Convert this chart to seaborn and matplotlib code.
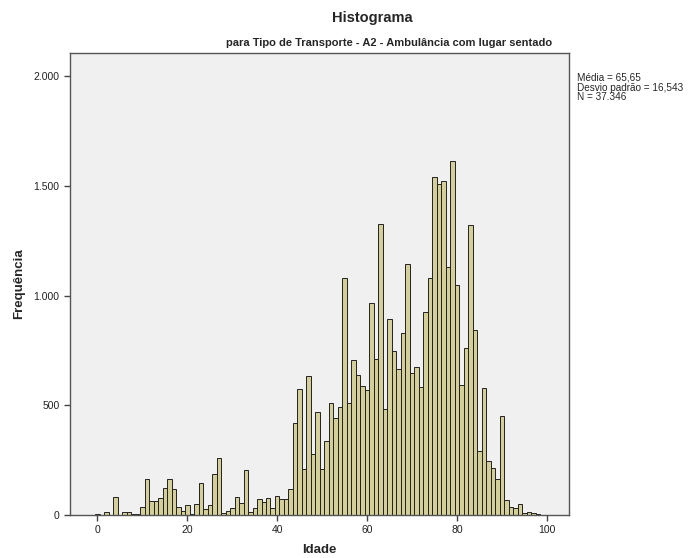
import numpy as np
import pandas as pd
import seaborn as sns
import matplotlib.pyplot as plt
from matplotlib.ticker import FuncFormatter

# Idade (anos) e frequência por idade
idade = list(range(0, 100))
frequencia = [
    5, 2, 12, 2, 83, 2, 12, 12, 5, 3,
    38, 165, 65, 65, 76, 123, 165, 118, 36, 18,
    44, 5, 48, 144, 26, 47, 188, 259, 8, 18,
    33, 83, 53, 203, 12, 32, 74, 58, 77, 33,
    86, 71, 72, 120, 418, 575, 208, 635, 277, 470,
    208, 339, 512, 440, 491, 1082, 512, 708, 639, 589,
    568, 967, 711, 1327, 485, 895, 746, 663, 830, 1143,
    647, 674, 583, 927, 1080, 1538, 1506, 1521, 1130, 1614,
    1050, 591, 762, 1321, 841, 292, 577, 245, 212, 164,
    453, 68, 36, 32, 48, 8, 12, 8, 5, 2,
]
y_ticks = [0, 500, 1000, 1500, 2000]
x_ticks = [0, 20, 40, 60, 80, 100]
stats_text = "Média = 65,65\nDesvio padrão = 16,543\nN = 37.346"

df = pd.DataFrame({"Idade": idade, "Frequencia": frequencia})

sns.set_style("white")
plt.rcParams['font.family'] = ['Liberation Sans', 'DejaVu Sans']

fig = plt.figure(figsize=(6.94, 5.58), dpi=100)
ax = fig.add_axes([70 / 694, 43 / 558, (569 - 70) / 694, (515 - 53) / 558])
ax.set_facecolor("#F0F0F0")

sns.histplot(data=df, x="Idade", weights="Frequencia", discrete=True,
             color="#D4CF98", edgecolor="#222222", linewidth=0.7, alpha=1, ax=ax)

ax.set_xlim(-6.1, 104.9)
ax.set_ylim(0, 2105)
ax.set_xticks(x_ticks)
ax.set_yticks(y_ticks)
ax.yaxis.set_major_formatter(FuncFormatter(lambda v, p: f"{int(v):,}".replace(",", ".")))
ax.tick_params(axis="both", direction="out", length=4, width=1, colors="#444444",
               labelsize=7.5, labelcolor="#222222", left=True, bottom=True)

for s in ax.spines.values():
    s.set_color("#555555")
    s.set_linewidth(1)

ax.set_xlabel("Idade", fontsize=9.5, fontweight="bold")
ax.set_ylabel("Frequência", fontsize=9.5, fontweight="bold")
ax.xaxis.set_label_coords(0.5, -0.062)
ax.yaxis.set_label_coords(-0.09, 0.5)

fig.text(372 / 694, 1 - 18 / 558, "Histograma", ha="center", va="center",
         fontsize=10.5, fontweight="bold")
fig.text(389 / 694, 1 - 43 / 558, "para Tipo de Transporte - A2 - Ambulância com lugar sentado",
         ha="center", va="center", fontsize=8, fontweight="bold")
fig.text(577 / 694, 1 - 73 / 558, stats_text, ha="left", va="top", fontsize=7.2,
         linespacing=0.95)

fig.savefig("out.png", dpi=100)
